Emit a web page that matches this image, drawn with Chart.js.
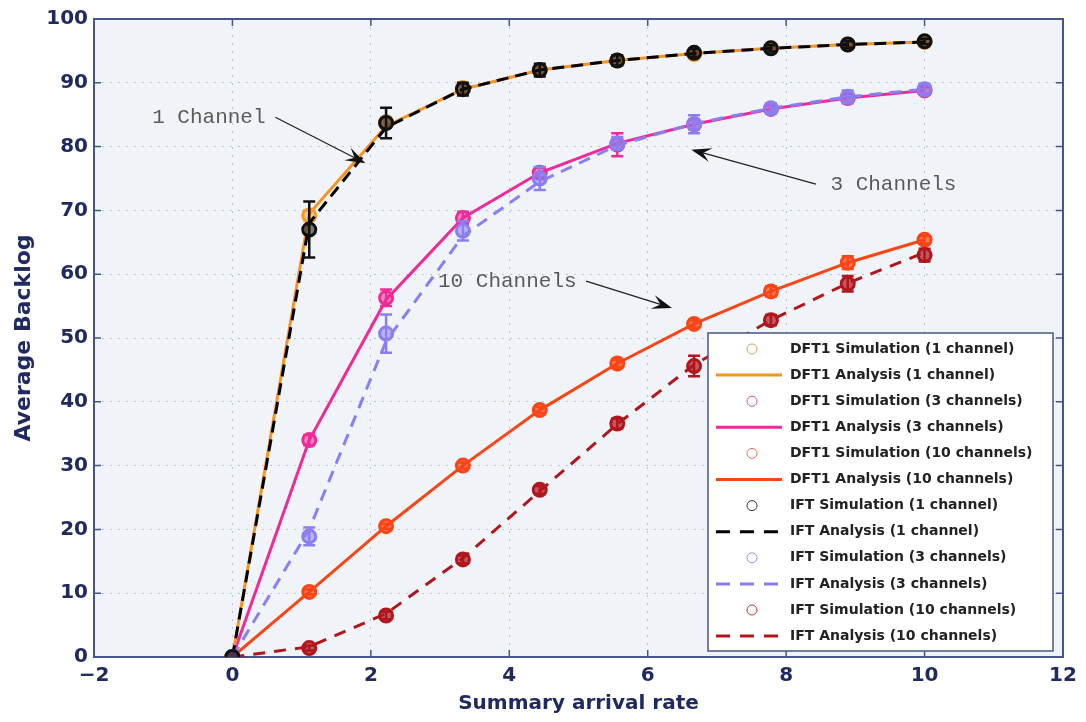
<!DOCTYPE html>
<html>
<head>
<meta charset="utf-8">
<script src="https://cdn.jsdelivr.net/npm/chart.js@4.4.1/dist/chart.umd.min.js"></script>
<style>
  html, body { margin: 0; padding: 0; background: #fff; }
  #wrap { width: 1086px; height: 722px; }
</style>
</head>
<body>
<div id="wrap"><canvas id="backlogChart" width="1086" height="722"></canvas></div>
<script>
// x positions (summary arrival rate)
const arrivalRate = [0, 1.11, 2.22, 3.33, 4.44, 5.56, 6.67, 7.78, 8.89, 10];

// DFT1 results
const dft1Sim1 = [0, 69.2, 83.8, 89.2, 92.0, 93.5, 94.5, 95.4, 96.0, 96.4];
const dft1Ana1 = [0, 69.5, 83.2, 89.0, 92.0, 93.5, 94.6, 95.4, 96.0, 96.4];
const dft1Sim3 = [0, 34.0, 56.3, 68.8, 75.9, 80.3, 83.5, 85.9, 87.6, 88.8];
const dft1Ana3 = [0, 34.0, 56.0, 68.8, 75.9, 80.5, 83.5, 85.9, 87.6, 88.8];
const dft1Sim10 = [0, 10.2, 20.5, 30.0, 38.7, 46.0, 52.2, 57.3, 61.8, 65.4];
const dft1Ana10 = [0, 10.2, 20.5, 30.0, 38.7, 46.0, 52.2, 57.3, 61.8, 65.4];

// IFT results
const iftSim1 = [0, 67.0, 83.7, 89.0, 92.0, 93.5, 94.7, 95.4, 96.0, 96.5];
const iftAna1 = [0, 68.0, 83.0, 89.0, 92.0, 93.5, 94.6, 95.4, 96.0, 96.4];
const iftSim3 = [0, 18.9, 50.7, 66.8, 75.0, 80.5, 83.5, 86.0, 87.8, 89.0];
const iftAna3 = [0, 20.0, 49.5, 66.0, 74.5, 80.2, 83.6, 86.0, 87.8, 89.0];
const iftSim10 = [0, 1.4, 6.5, 15.3, 26.2, 36.6, 45.6, 52.8, 58.5, 63.0];
const iftAna10 = [0, 1.6, 6.8, 15.5, 26.0, 36.5, 45.8, 52.8, 58.6, 63.4];

// half-widths of the confidence intervals
const dft1Err1 = [0, 0.8, 0.8, 0.6, 0.6, 0.5, 0.5, 0.4, 0.4, 0.4];
const dft1Err3 = [0, 0.8, 1.3, 1.0, 0.8, 1.8, 0.8, 0.6, 0.6, 0.5];
const dft1Err10 = [0, 0.4, 0.4, 0.5, 0.5, 0.6, 0.6, 0.8, 1.0, 0.6];
const iftErr1 = [0, 4.4, 2.4, 1.0, 1.0, 0.8, 0.6, 0.5, 0.5, 0.4];
const iftErr3 = [0, 1.4, 3.0, 1.5, 1.8, 1.0, 1.4, 0.8, 1.0, 0.8];
const iftErr10 = [0, 0.4, 0.6, 0.6, 0.6, 0.8, 1.6, 0.8, 1.2, 1.0];

const xTicks = [-2, 0, 2, 4, 6, 8, 10, 12];
const yTicks = [0, 10, 20, 30, 40, 50, 60, 70, 80, 90, 100];

const seriesLabels = [
    'DFT1 Simulation (1 channel)', 'DFT1 Analysis (1 channel)',
    'DFT1 Simulation (3 channels)', 'DFT1 Analysis (3 channels)',
    'DFT1 Simulation (10 channels)', 'DFT1 Analysis (10 channels)',
    'IFT Simulation (1 channel)', 'IFT Analysis (1 channel)',
    'IFT Simulation (3 channels)', 'IFT Analysis (3 channels)',
    'IFT Simulation (10 channels)', 'IFT Analysis (10 channels)'
];

// annotation text, text anchor and arrow (from -> to), in data units
const notes = [
    { text: '1 Channel', at: [-1.16, 84.6], from: [0.62, 84.6], to: [1.92, 77.4] },
    { text: '3 Channels', at: [8.64, 74.0], from: [8.43, 74.1], to: [6.63, 79.5] },
    { text: '10 Channels', at: [2.97, 58.8], from: [5.11, 58.9], to: [6.35, 54.7] }
];

const frameColor = '#46558a';
const labelColor = '#1f2b60';
const plotBg = '#f0f4f9';

const toPoints = ys => arrivalRate.map((x, i) => ({ x: x, y: ys[i] }));

function simSet(label, ys, errs, color, fill, legendColor, order) {
    return {
        label: label,
        data: toPoints(ys),
        errorBars: errs,
        showLine: false,
        borderColor: color,
        backgroundColor: fill,
        pointStyle: 'circle',
        pointRadius: 6.5,
        pointBorderWidth: 3,
        pointBackgroundColor: fill,
        pointBorderColor: color,
        legendMarker: legendColor,
        order: order
    };
}

function lineSet(label, ys, color, dash, order) {
    return {
        label: label,
        data: toPoints(ys),
        borderColor: color,
        backgroundColor: color,
        borderWidth: 3,
        borderDash: dash,
        pointRadius: 0,
        tension: 0,
        order: order
    };
}

const datasets = [
    simSet(seriesLabels[0], dft1Sim1, dft1Err1, '#f39a2a', 'rgba(243,154,42,0.5)', '#d2a25a', 2),
    lineSet(seriesLabels[1], dft1Ana1, '#f7941d', [], 3),
    simSet(seriesLabels[2], dft1Sim3, dft1Err3, '#ee2b97', 'rgba(238,43,151,0.55)', '#e0559f', 2),
    lineSet(seriesLabels[3], dft1Ana3, '#ee2b97', [], 3),
    simSet(seriesLabels[4], dft1Sim10, dft1Err10, '#fa4516', 'rgba(250,69,22,0.7)', '#e0705a', 2),
    lineSet(seriesLabels[5], dft1Ana10, '#fa4516', [], 3),
    simSet(seriesLabels[6], iftSim1, iftErr1, '#111111', 'rgba(20,20,20,0.55)', '#333333', 0),
    lineSet(seriesLabels[7], iftAna1, '#000000', [12, 7], 1),
    simSet(seriesLabels[8], iftSim3, iftErr3, '#8a7ff2', 'rgba(138,127,242,0.55)', '#9a94e6', 0),
    lineSet(seriesLabels[9], iftAna3, '#8a7ff2', [12, 8], 1),
    simSet(seriesLabels[10], iftSim10, iftErr10, '#b0161c', 'rgba(176,22,28,0.7)', '#a04046', 0),
    lineSet(seriesLabels[11], iftAna10, '#b0161c', [12, 9], 1)
];

function drawArrow(ctx, x1, y1, x2, y2) {
    const ang = Math.atan2(y2 - y1, x2 - x1);
    const len = 20, wid = 7;
    const cos = Math.cos(ang), sin = Math.sin(ang);
    ctx.beginPath();
    ctx.moveTo(x1, y1);
    ctx.lineTo(x2 - cos * len * 0.6, y2 - sin * len * 0.6);
    ctx.stroke();
    ctx.beginPath();
    ctx.moveTo(x2, y2);
    ctx.lineTo(x2 - cos * len - sin * wid, y2 - sin * len + cos * wid);
    ctx.lineTo(x2 - cos * len * 0.6, y2 - sin * len * 0.6);
    ctx.lineTo(x2 - cos * len + sin * wid, y2 - sin * len - cos * wid);
    ctx.closePath();
    ctx.fill();
}

const plotFrame = {
    id: 'plotFrame',
    beforeDraw(chart) {
        const { ctx, chartArea: a } = chart;
        ctx.save();
        ctx.fillStyle = plotBg;
        ctx.fillRect(a.left, a.top, a.right - a.left, a.bottom - a.top);
        ctx.restore();
    },
    beforeDatasetsDraw(chart) {
        const { ctx, chartArea: a, scales } = chart;
        ctx.save();
        ctx.strokeStyle = frameColor;
        ctx.lineWidth = 1.5;
        ctx.beginPath();
        // MATLAB style inward tick marks
        xTicks.forEach(v => {
            const px = scales.x.getPixelForValue(v);
            ctx.moveTo(px, a.bottom); ctx.lineTo(px, a.bottom - 7);
            ctx.moveTo(px, a.top); ctx.lineTo(px, a.top + 7);
        });
        yTicks.forEach(v => {
            const py = scales.y.getPixelForValue(v);
            ctx.moveTo(a.left, py); ctx.lineTo(a.left + 7, py);
            ctx.moveTo(a.right, py); ctx.lineTo(a.right - 7, py);
        });
        ctx.stroke();
        ctx.lineWidth = 2;
        ctx.strokeRect(a.left, a.top, a.right - a.left, a.bottom - a.top);
        ctx.restore();
    },
    afterDatasetDraw(chart, args) {
        const ds = chart.data.datasets[args.index];
        if (!ds.errorBars) return;
        const { ctx, scales } = chart;
        ctx.save();
        ctx.strokeStyle = ds.borderColor;
        ctx.lineWidth = 2.5;
        ds.data.forEach((p, i) => {
            const e = ds.errorBars[i];
            if (!e) return;
            const px = scales.x.getPixelForValue(p.x);
            const lo = scales.y.getPixelForValue(p.y - e);
            const hi = scales.y.getPixelForValue(p.y + e);
            ctx.beginPath();
            ctx.moveTo(px, lo); ctx.lineTo(px, hi);
            ctx.moveTo(px - 6, lo); ctx.lineTo(px + 6, lo);
            ctx.moveTo(px - 6, hi); ctx.lineTo(px + 6, hi);
            ctx.stroke();
        });
        ctx.restore();
    },
    afterDatasetsDraw(chart) {
        const { ctx, chartArea: a, scales } = chart;
        ctx.save();

        // annotations
        ctx.font = '21px "Liberation Mono", "DejaVu Sans Mono", monospace';
        ctx.fillStyle = '#5a5a5a';
        ctx.textBaseline = 'middle';
        ctx.textAlign = 'left';
        notes.forEach(n => {
            ctx.fillText(n.text, scales.x.getPixelForValue(n.at[0]), scales.y.getPixelForValue(n.at[1]));
        });
        ctx.strokeStyle = '#222222';
        ctx.fillStyle = '#111111';
        ctx.lineWidth = 1.3;
        notes.forEach(n => {
            drawArrow(ctx,
                scales.x.getPixelForValue(n.from[0]), scales.y.getPixelForValue(n.from[1]),
                scales.x.getPixelForValue(n.to[0]), scales.y.getPixelForValue(n.to[1]));
        });

        // legend box
        const right = a.right - 10, bottom = a.bottom - 6;
        const w = 345, h = 318;
        const left = right - w, top = bottom - h;
        ctx.fillStyle = '#ffffff';
        ctx.fillRect(left, top, w, h);
        ctx.strokeStyle = frameColor;
        ctx.lineWidth = 1.5;
        ctx.strokeRect(left, top, w, h);

        ctx.font = 'bold 14px "DejaVu Sans", sans-serif';
        ctx.textBaseline = 'middle';
        const step = 26.1;
        chart.data.datasets.forEach((ds, i) => {
            const y = top + 16 + i * step;
            if (ds.errorBars) {
                ctx.strokeStyle = ds.legendMarker;
                ctx.lineWidth = 1;
                ctx.beginPath();
                ctx.arc(left + 44, y, 5, 0, Math.PI * 2);
                ctx.stroke();
            } else {
                ctx.strokeStyle = ds.borderColor;
                ctx.lineWidth = 3;
                ctx.setLineDash(ds.borderDash.length ? [14, 10] : []);
                ctx.beginPath();
                ctx.moveTo(left + 8, y);
                ctx.lineTo(left + 74, y);
                ctx.stroke();
                ctx.setLineDash([]);
            }
            ctx.fillStyle = '#222222';
            ctx.fillText(ds.label, left + 82, y);
        });
        ctx.restore();
    }
};

const tickFont = { family: '"DejaVu Sans", sans-serif', size: 20, weight: 'bold' };

new Chart(document.getElementById('backlogChart'), {
    type: 'line',
    data: { datasets: datasets },
    options: {
        responsive: false,
        animation: false,
        layout: { padding: { top: 19, right: 23, left: 0, bottom: 0 } },
        plugins: {
            legend: { display: false },
            tooltip: { enabled: false }
        },
        scales: {
            x: {
                type: 'linear',
                min: -2,
                max: 12,
                afterFit(scale) { scale.height = 65; },
                afterBuildTicks(scale) { scale.ticks = xTicks.map(v => ({ value: v })); },
                ticks: {
                    font: tickFont,
                    color: labelColor,
                    padding: 7,
                    callback: v => (v < 0 ? '\u2212' + Math.abs(v) : String(v))
                },
                grid: { color: '#bfc3cd', lineWidth: 1, drawTicks: false },
                border: { display: false, dash: [2, 6] },
                title: {
                    display: true,
                    text: 'Summary arrival rate',
                    font: { family: '"DejaVu Sans", sans-serif', size: 20, weight: 'bold' },
                    color: labelColor,
                    padding: { top: 0, bottom: 6 }
                }
            },
            y: {
                type: 'linear',
                min: 0,
                max: 100,
                afterFit(scale) { scale.width = 94; },
                afterBuildTicks(scale) { scale.ticks = yTicks.map(v => ({ value: v })); },
                ticks: { font: tickFont, color: labelColor, padding: 6 },
                grid: { color: '#bfc3cd', lineWidth: 1, drawTicks: false },
                border: { display: false, dash: [2, 6] },
                title: {
                    display: true,
                    text: 'Average Backlog',
                    font: { family: '"DejaVu Sans", sans-serif', size: 22, weight: 'bold' },
                    color: labelColor,
                    padding: { top: 11, bottom: 0 }
                }
            }
        }
    },
    plugins: [plotFrame]
});
</script>
</body>
</html>
